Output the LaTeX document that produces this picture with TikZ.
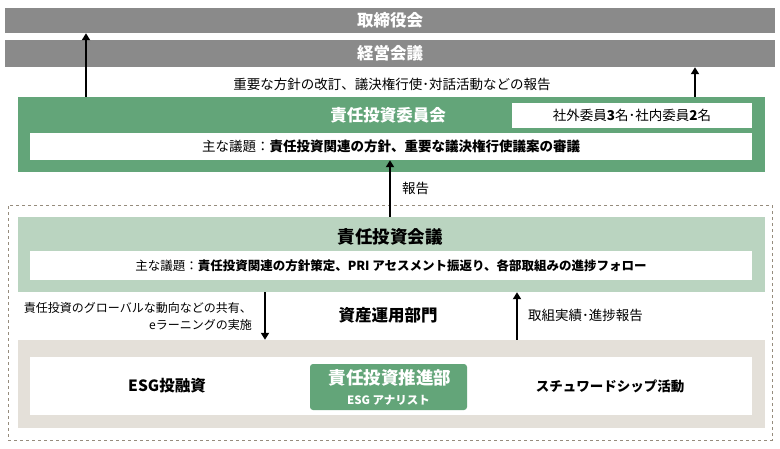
\documentclass[tikz,border=0pt]{standalone}
\usepackage{fontspec}
\setmainfont{Noto Sans CJK JP}
\usetikzlibrary{arrows.meta,positioning}
\definecolor{boardgray}{RGB}{138,138,138}
\definecolor{iicgreen}{RGB}{99,165,121}
\definecolor{iimgreen}{RGB}{186,212,192}
\definecolor{deptbeige}{RGB}{228,224,217}
\definecolor{dashgray}{RGB}{150,140,125}
\newcommand\hdsize{\fontsize{16.5}{19}\selectfont}
\newcommand\txsize{\fontsize{13.5}{16}\selectfont}
\newcommand\smsize{\fontsize{11.5}{14}\selectfont}

\begin{document}
\begin{tikzpicture}[x=1pt,y=-1pt,
  bar/.style={fill=boardgray,text=white,font=\hdsize\bfseries,minimum width=770,inner sep=0},
  panel/.style={minimum width=747,minimum height=75,inner sep=0},
  whitebox/.style={fill=white,font=\txsize,inner sep=0},
  label/.style={font=\txsize,inner sep=0},
  title/.style={font=\hdsize\bfseries,inner sep=0},
  arr/.style={-{Triangle[width=8pt,length=7pt]},line width=1.8pt}]
\useasboundingbox (0,0) rectangle (780,448);
% upper boards
\node[bar,minimum height=25] (board) at (390,20.5) {取締役会};
\node[bar,minimum height=27] (mgmt) at (390,53.5) {経営会議};
\node[label] (upreport) at (392,84) {重要な方針の改訂、議決権行使･対話活動などの報告};
% committee
\node[panel,fill=iicgreen] (iic) at (391.5,134.5) {};
\node[title,text=white] (iictitle) at (388,115) {責任投資委員会};
\node[whitebox,minimum width=240,minimum height=25] (members) at (632,115.5) {社外委員\textbf{3}名･社内委員\textbf{2}名};
\node[whitebox,minimum width=722,minimum height=27] (iicagenda) at (391,146.5) {主な議題：\textbf{責任投資関連の方針、重要な議決権行使議案の審議}};
% asset management division
\node[draw=dashgray,dashed,line width=.7pt,minimum width=764,minimum height=235,inner sep=0] (division) at (390,322.5) {};
\node[panel,fill=iimgreen] (iim) at (391.5,254.5) {};
\node[title,font=\fontsize{17.5}{20}\selectfont\bfseries] (iimtitle) at (390,237) {責任投資会議};
\node[whitebox,font=\fontsize{12.5}{16}\selectfont,minimum width=722,minimum height=29] (iimagenda) at (391,265.5) {主な議題：\textbf{責任投資関連の方針策定、PRI アセスメント振返り、各部取組みの進捗フォロー}};
\node[title,font=\fontsize{16.5}{19}\selectfont\bfseries] (divtitle) at (388,315) {資産運用部門};
\node[fill=deptbeige,minimum width=747,minimum height=88,inner sep=0] (dept) at (391.5,384) {};
\node[fill=white,minimum width=722,minimum height=58,inner sep=0] (deptinner) at (391,386) {};
\node[title,font=\fontsize{15.5}{18}\selectfont\bfseries] (esg) at (167,386) {ESG投融資};
\node[fill=iicgreen,rounded corners=3pt,minimum width=157,minimum height=46,inner sep=0] (promo) at (388.5,387) {};
\node[title,text=white,font=\fontsize{17.5}{20}\selectfont\bfseries] (promotitle) at (390,378) {責任投資推進部};
\node[inner sep=0,text=white,font=\smsize\bfseries] (analyst) at (388.5,400) {ESG アナリスト};
\node[title,font=\fontsize{13.5}{16}\selectfont\bfseries] (steward) at (610,386) {スチュワードシップ活動};
% connectors
\coordinate (xl) at (86,0);
\coordinate (xr) at (695,0);
\coordinate (xc) at (390,0);
\coordinate (xd) at (265,0);
\coordinate (xu) at (517,0);
\draw[arr] (iic.north -| xl) -- (board.south -| xl);
\draw[arr] (iic.north -| xr) -- (mgmt.south -| xr);
\draw[arr] (iim.north -| xc) -- (iicagenda.south -| xc);
\node[label,anchor=west] (report) at (402,188) {報告};
\draw[arr] (iim.south -| xd) -- (dept.north -| xd);
\node[label,anchor=east,align=right,font=\fontsize{12}{17}\selectfont] (share) at (252,316) {責任投資のグローバルな動向などの共有、\\eラーニングの実施};
\draw[arr] (dept.north -| xu) -- (iim.south -| xu);
\node[label,anchor=west] (progress) at (528,315) {取組実績･進捗報告};
\end{tikzpicture}
\end{document}
